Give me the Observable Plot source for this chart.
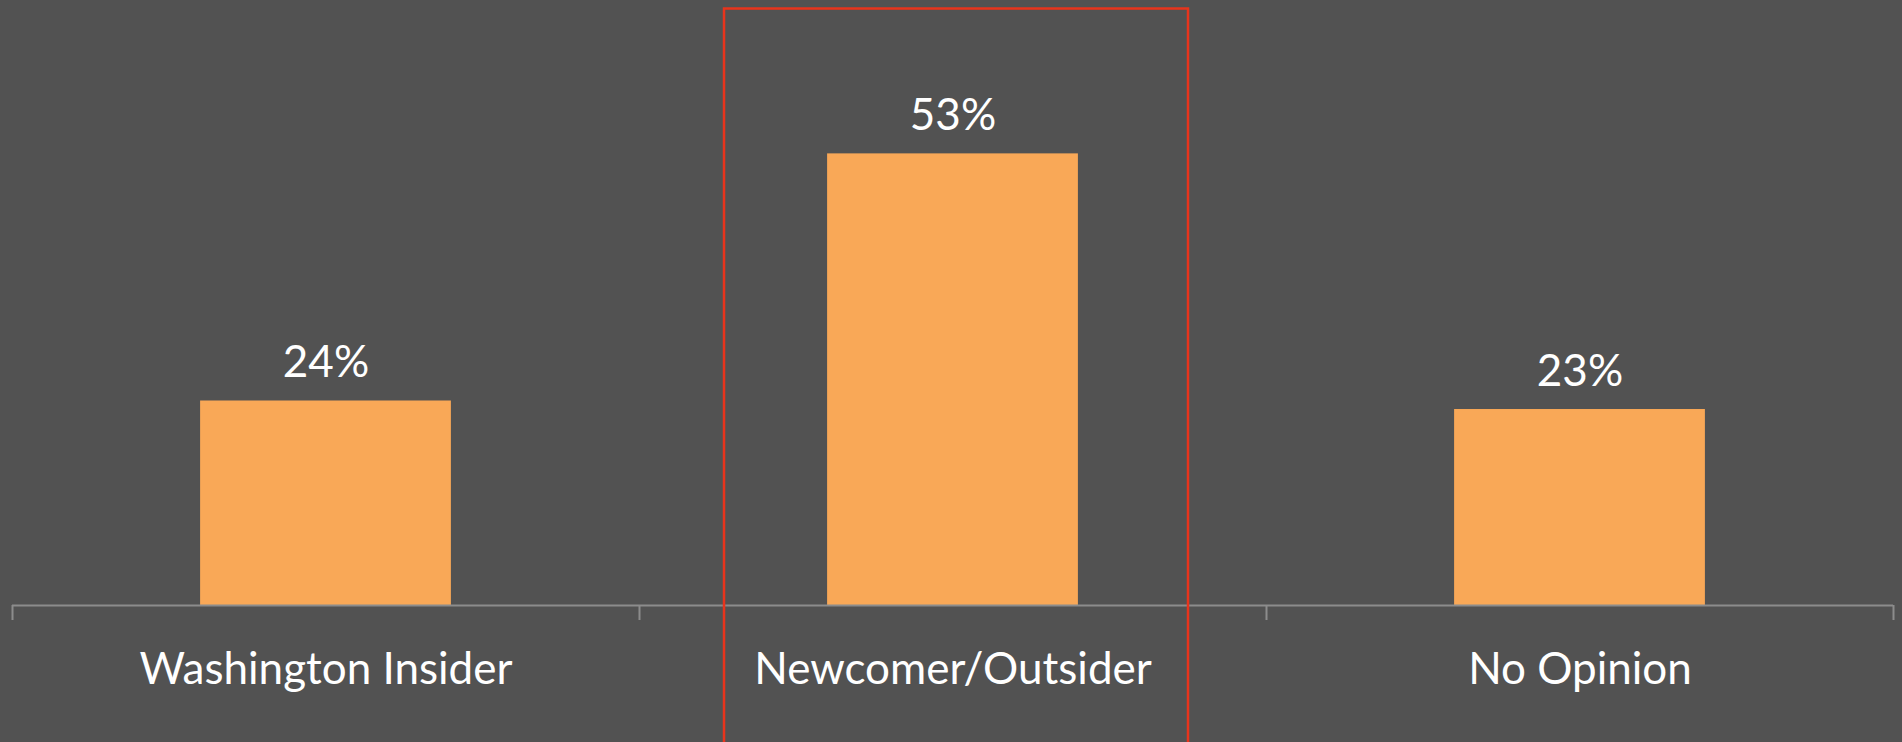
<!DOCTYPE html>
<html><head><meta charset="utf-8">
<script src="https://cdn.jsdelivr.net/npm/d3@7"></script>
<script src="https://cdn.jsdelivr.net/npm/@observablehq/plot@0.6"></script>
<style>html,body{margin:0;padding:0;background:#525252;overflow:hidden}</style>
</head><body><div id="chart"></div>
<script>
const categories = ["Washington Insider", "Newcomer/Outsider", "No Opinion"];
const values = [24, 53, 23];
const valueLabels = ["24%", "53%", "23%"];
const highlight = "Newcomer/Outsider";

const data = categories.map((c, i) => ({category: c, index: i, value: values[i], label: valueLabels[i]}));
const hi = categories.indexOf(highlight);
const boundaries = d3.range(categories.length + 1);

const plot = Plot.plot({
  width: 1902, height: 742,
  marginTop: 0, marginBottom: 137, marginLeft: 12, marginRight: 9,
  style: {background: "#525252", fontFamily: "Lato, 'Open Sans', sans-serif", overflow: "visible"},
  x: {domain: [0, categories.length], axis: null},
  y: {domain: [0, 71.0], axis: null},
  marks: [
    Plot.rectY(data, {x1: d => d.index + 0.3, x2: d => d.index + 0.7, y: "value", fill: "#F9A857"}),
    Plot.ruleY([0], {stroke: "#8c8c8c", strokeWidth: 2}),
    Plot.ruleX(boundaries, {x: d => d, y1: 0, y2: -1.76, stroke: "#8c8c8c", strokeWidth: 2}),
    Plot.text(data, {x: d => d.index + 0.5, y: "value", text: "label", lineAnchor: "bottom", dy: -24, fill: "white", fontSize: 44}),
    Plot.text(data, {x: d => d.index + 0.5, y: 0, text: "category", lineAnchor: "bottom", dy: 78, fill: "white", fontSize: 44}),
    Plot.rect([hi], {x1: d => d + 0.1356, x2: d => d + 0.8756, y1: -20, y2: 70.0, stroke: "#e8341c", strokeWidth: 2.5, fill: "none"})
  ]
});
document.getElementById("chart").appendChild(plot);
</script>
</body></html>
